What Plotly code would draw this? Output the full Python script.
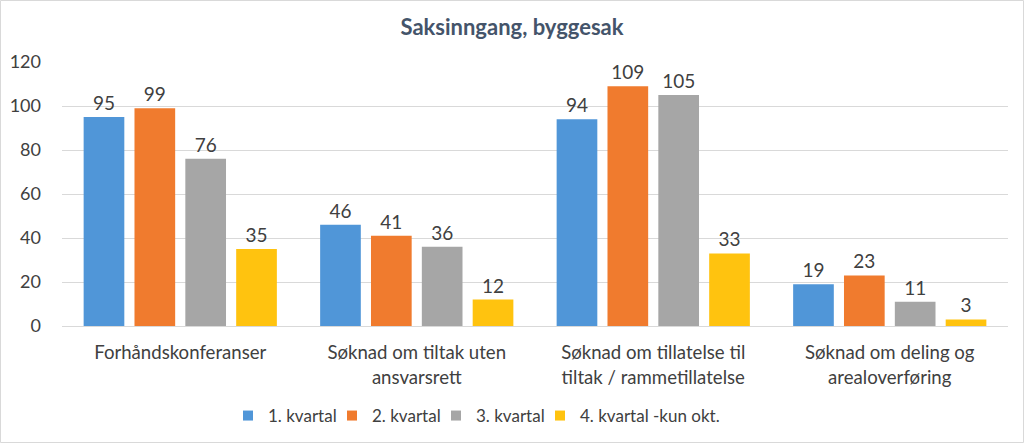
import plotly.graph_objects as go

categories = ["Forhåndskonferanser", "Søknad om tiltak uten<br>ansvarsrett",
              "Søknad om tillatelse til<br>tiltak / rammetillatelse",
              "Søknad om deling og<br>arealoverføring"]
series_names = ["1. kvartal", "2. kvartal", "3. kvartal", "4. kvartal -kun okt."]
q1 = [95, 46, 94, 19]
q2 = [99, 41, 109, 23]
q3 = [76, 36, 105, 11]
q4 = [35, 12, 33, 3]
colors = ["#5096d8", "#f07b2e", "#a6a6a6", "#ffc30f"]

font_family = "Lato, 'Open Sans', sans-serif"
text_color = "#404040"

fig = go.Figure()
for name, vals, col in zip(series_names, [q1, q2, q3, q4], colors):
    fig.add_trace(go.Bar(
        x=categories, y=vals, name=name, showlegend=False,
        marker=dict(color=col, line=dict(width=0)),
        text=[str(v) for v in vals], textposition="outside",
        textfont=dict(size=19, color=text_color, family=font_family),
        cliponaxis=False,
    ))

legend_ids = ["legend", "legend2", "legend3", "legend4"]
legend_x_px = [228, 332, 436, 540]
for name, col, lid in zip(series_names, colors, legend_ids):
    fig.add_trace(go.Scatter(
        x=[None], y=[None], name=name, mode="markers",
        marker=dict(symbol="square", size=10, color=col),
        showlegend=True, legend=lid,
    ))

legend_common = dict(orientation="h", xanchor="left", yref="container",
                     y=1 - 416 / 443, yanchor="middle",
                     font=dict(size=17, color=text_color), itemwidth=30,
                     bgcolor="rgba(0,0,0,0)")
legend_layout = {lid: dict(legend_common, x=(px - 62) / 946)
                 for lid, px in zip(legend_ids, legend_x_px)}

fig.update_layout(
    width=1024, height=443,
    paper_bgcolor="white", plot_bgcolor="white",
    margin=dict(l=62, r=16, t=62, b=117),
    barmode="group", bargap=0.14, bargroupgap=0.2,
    title=dict(text="<b>Saksinngang, byggesak</b>", x=0.5, xanchor="center",
               y=1 - 27 / 443, yanchor="middle",
               font=dict(size=22, color="#44546a", family=font_family)),
    font=dict(family=font_family, color=text_color, size=18),
    showlegend=True,
    xaxis=dict(showgrid=False, showline=True, linecolor="#d9d9d9", linewidth=1,
               ticks="", tickfont=dict(size=18.6, color=text_color),
               ticklabelstandoff=10, automargin=False),
    yaxis=dict(range=[0, 120], dtick=20, showgrid=True, gridcolor="#d9d9d9",
               gridwidth=1, zeroline=False, showline=False, ticks="",
               tickfont=dict(size=18, color=text_color), ticklabelstandoff=20,
               automargin=False),
    shapes=[dict(type="rect", xref="paper", yref="paper",
                 x0=-61.5/946, x1=1+15.5/946, y0=-116.5/264, y1=1+61.5/264,
                 line=dict(color="#d9d9d9", width=1), fillcolor="rgba(0,0,0,0)")],
    **legend_layout,
)

fig.write_html("out.html", config={"displayModeBar": False},
               post_script="document.body.style.margin='0';")
